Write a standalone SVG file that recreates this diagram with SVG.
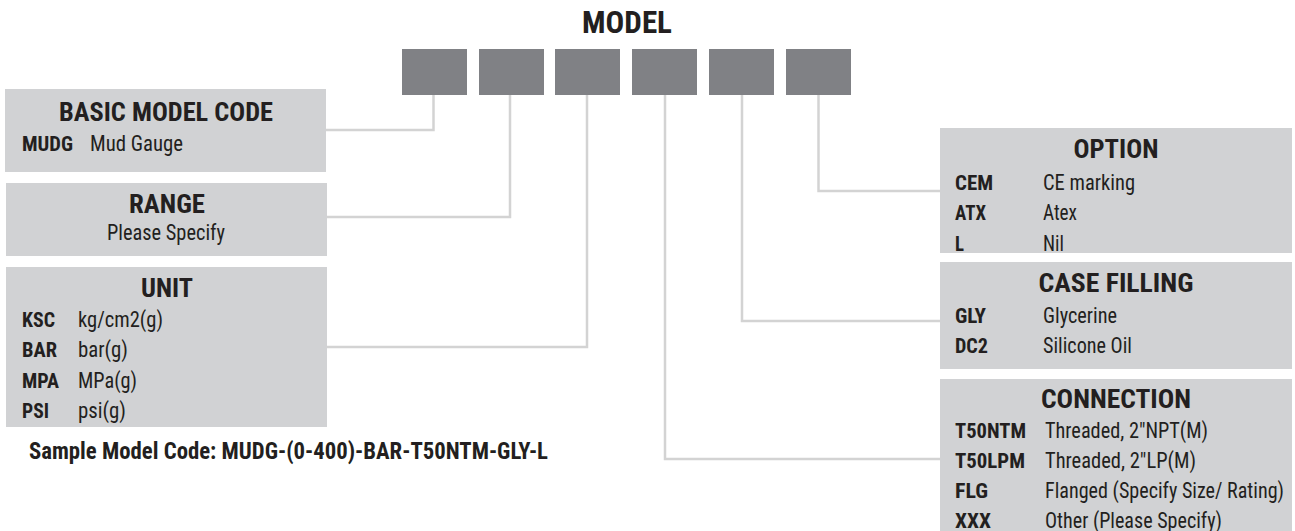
<svg xmlns="http://www.w3.org/2000/svg" width="1295" height="531" viewBox="0 0 1295 531">
<style>
text{font-family:"Roboto Condensed","Liberation Sans Narrow","DejaVu Sans Condensed","Liberation Sans",sans-serif;fill:#231f20}
.seg{fill:#808185}
.box{fill:#d1d2d4}
.ttl{font-size:25px;font-weight:bold;text-anchor:middle}
.code{font-size:21px;font-weight:bold}
.desc{font-size:21.5px}
.conn{fill:none;stroke:#d3d3d3;stroke-width:2.5}
</style>
<rect width="1295" height="531" fill="#ffffff"/>
<g id="model">
<text x="627" y="33" textLength="90" lengthAdjust="spacingAndGlyphs" style="font-size:31px;font-weight:bold;text-anchor:middle">MODEL</text>
<rect class="seg" x="402" y="49" width="65" height="46"/>
<rect class="seg" x="479" y="49" width="65" height="46"/>
<rect class="seg" x="555" y="49" width="65" height="46"/>
<rect class="seg" x="632" y="49" width="65" height="46"/>
<rect class="seg" x="709" y="49" width="65" height="46"/>
<rect class="seg" x="786" y="49" width="65" height="46"/>
</g>
<g id="connectors">
<polyline class="conn" points="433.5,95 433.5,130 326,130"/>
<polyline class="conn" points="510,95 510,217 327,217"/>
<polyline class="conn" points="587,95 587,347 327,347"/>
<polyline class="conn" points="665,95 665,459 940,459"/>
<polyline class="conn" points="742,95 742,321 940,321"/>
<polyline class="conn" points="818.5,95 818.5,191 940,191"/>
</g>
<g id="basic">
<rect class="box" x="5" y="89" width="321" height="83"/>
<text class="ttl" x="166" y="121" textLength="214" lengthAdjust="spacingAndGlyphs">BASIC MODEL CODE</text>
<text class="code" x="22" y="151" textLength="51" lengthAdjust="spacingAndGlyphs">MUDG</text>
<text class="desc" x="90" y="151" textLength="93" lengthAdjust="spacingAndGlyphs">Mud Gauge</text>
</g>
<g id="range">
<rect class="box" x="6" y="183" width="321" height="73"/>
<text class="ttl" x="167" y="213" textLength="76" lengthAdjust="spacingAndGlyphs">RANGE</text>
<text class="desc" x="166" y="240" text-anchor="middle" textLength="118" lengthAdjust="spacingAndGlyphs">Please Specify</text>
</g>
<g id="unit">
<rect class="box" x="6" y="267" width="321" height="160"/>
<text class="ttl" x="167" y="297" textLength="52" lengthAdjust="spacingAndGlyphs">UNIT</text>
<text class="code" x="22" y="327" textLength="33" lengthAdjust="spacingAndGlyphs">KSC</text><text class="desc" x="78" y="327" textLength="85" lengthAdjust="spacingAndGlyphs">kg/cm2(g)</text>
<text class="code" x="22" y="357" textLength="35" lengthAdjust="spacingAndGlyphs">BAR</text><text class="desc" x="78" y="357" textLength="50" lengthAdjust="spacingAndGlyphs">bar(g)</text>
<text class="code" x="22" y="388" textLength="37" lengthAdjust="spacingAndGlyphs">MPA</text><text class="desc" x="78" y="388" textLength="59" lengthAdjust="spacingAndGlyphs">MPa(g)</text>
<text class="code" x="22" y="418" textLength="27" lengthAdjust="spacingAndGlyphs">PSI</text><text class="desc" x="78" y="418" textLength="48" lengthAdjust="spacingAndGlyphs">psi(g)</text>
</g>
<g id="sample">
<text x="29" y="459" textLength="519" lengthAdjust="spacingAndGlyphs" style="font-size:24px;font-weight:bold">Sample Model Code: MUDG-(0-400)-BAR-T50NTM-GLY-L</text>
</g>
<g id="option">
<rect class="box" x="940" y="128" width="352" height="125"/>
<text class="ttl" x="1116" y="158" textLength="85" lengthAdjust="spacingAndGlyphs">OPTION</text>
<text class="code" x="955" y="190" textLength="38" lengthAdjust="spacingAndGlyphs">CEM</text><text class="desc" x="1043" y="190" textLength="92" lengthAdjust="spacingAndGlyphs">CE marking</text>
<text class="code" x="955" y="220" textLength="31" lengthAdjust="spacingAndGlyphs">ATX</text><text class="desc" x="1043" y="220" textLength="34" lengthAdjust="spacingAndGlyphs">Atex</text>
<text class="code" x="955" y="251" textLength="9" lengthAdjust="spacingAndGlyphs">L</text><text class="desc" x="1043" y="251" textLength="21" lengthAdjust="spacingAndGlyphs">Nil</text>
</g>
<g id="casefilling">
<rect class="box" x="940" y="262" width="352" height="107"/>
<text class="ttl" x="1116" y="292" textLength="155" lengthAdjust="spacingAndGlyphs">CASE FILLING</text>
<text class="code" x="955" y="323" textLength="31" lengthAdjust="spacingAndGlyphs">GLY</text><text class="desc" x="1043" y="323" textLength="74" lengthAdjust="spacingAndGlyphs">Glycerine</text>
<text class="code" x="955" y="353" textLength="33" lengthAdjust="spacingAndGlyphs">DC2</text><text class="desc" x="1043" y="353" textLength="89" lengthAdjust="spacingAndGlyphs">Silicone Oil</text>
</g>
<g id="connection">
<rect class="box" x="940" y="379" width="352" height="152"/>
<text class="ttl" x="1116" y="408" textLength="150" lengthAdjust="spacingAndGlyphs">CONNECTION</text>
<text class="code" x="955" y="438" textLength="71" lengthAdjust="spacingAndGlyphs">T50NTM</text><text class="desc" x="1045" y="438" textLength="163" lengthAdjust="spacingAndGlyphs">Threaded, 2"NPT(M)</text>
<text class="code" x="955" y="468" textLength="70" lengthAdjust="spacingAndGlyphs">T50LPM</text><text class="desc" x="1045" y="468" textLength="151" lengthAdjust="spacingAndGlyphs">Threaded, 2"LP(M)</text>
<text class="code" x="955" y="498" textLength="33" lengthAdjust="spacingAndGlyphs">FLG</text><text class="desc" x="1045" y="498" textLength="239" lengthAdjust="spacingAndGlyphs">Flanged (Specify Size/ Rating)</text>
<text class="code" x="955" y="528" textLength="36" lengthAdjust="spacingAndGlyphs">XXX</text><text class="desc" x="1045" y="528" textLength="177" lengthAdjust="spacingAndGlyphs">Other (Please Specify)</text>
</g>
</svg>
